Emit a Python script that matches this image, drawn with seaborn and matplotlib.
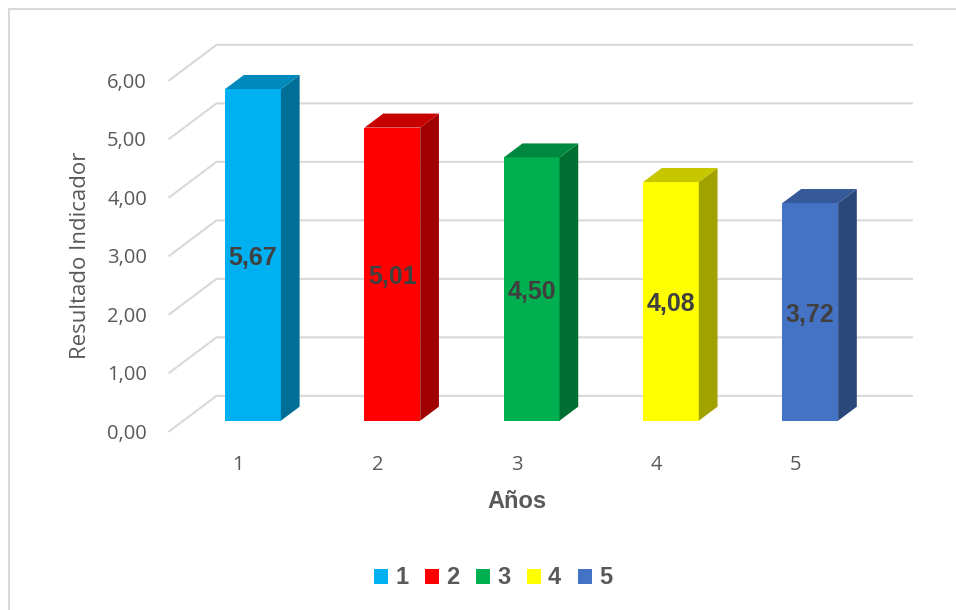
import matplotlib
matplotlib.use("Agg")
import matplotlib.pyplot as plt
import matplotlib.transforms as mtransforms
from matplotlib.patches import Polygon, Patch
from matplotlib.lines import Line2D
from matplotlib.colors import to_rgb
import numpy as np
import pandas as pd
import seaborn as sns

# Data
years = ["1", "2", "3", "4", "5"]
values = [5.67, 5.01, 4.50, 4.08, 3.72]
value_labels = ["5,67", "5,01", "4,50", "4,08", "3,72"]
bar_colors = ["#00B0F0", "#FF0000", "#00B050", "#FFFF00", "#4472C4"]
y_ticks = [0, 1, 2, 3, 4, 5, 6]
y_tick_labels = ["0,00", "1,00", "2,00", "3,00", "4,00", "5,00", "6,00"]

sns.set_style("white")
plt.rcParams["font.family"] = ["Open Sans", "DejaVu Sans"]

W, H = 956, 610
fig = plt.figure(figsize=(W / 100, H / 100), dpi=100)
ax = fig.add_axes([183.4 / W, (H - 420.7) / H, 696.5 / W, 351 / H])

df = pd.DataFrame({"Año": years, "Resultado": values})
sns.barplot(data=df, x="Año", y="Resultado", hue="Año", palette=bar_colors,
            width=0.4, saturation=1, legend=False, ax=ax, zorder=3,
            linewidth=0)
ax.set_xlim(-0.5, 4.5)
ax.set_ylim(0, 6)
ax.set_axis_off()

# 3D depth: full floor depth vector (in screen dots) and plane positions
DEPTH = np.array([48.0, 36.0])
FRONT = -0.31   # front wall relative to bar front plane
BAR_BACK = 0.39  # back face of the bars
BACK = 0.69     # back wall


def dots_to_data(d):
    p0 = ax.transData.transform((0, 0))
    q = ax.transData.inverted().transform(p0 + np.asarray(d))
    return q[0], q[1]


fdx, fdy = dots_to_data(DEPTH * FRONT)
bdx, bdy = dots_to_data(DEPTH * BACK)
x0, x1 = ax.get_xlim()

# Gridlines: diagonal on the side wall and horizontal on the back wall
for v in y_ticks:
    ax.plot([x0 + fdx, x0 + bdx, x1 + bdx], [v + fdy, v + bdy, v + bdy],
            color="#d9d9d9", lw=1.5, zorder=1, clip_on=False,
            solid_capstyle="butt", solid_joinstyle="miter")

# Side and top faces of the bars
ddx, ddy = dots_to_data(DEPTH * BAR_BACK)
for p, c in zip(ax.patches, bar_colors):
    bx0 = p.get_x()
    bx1 = bx0 + p.get_width()
    h = p.get_height()
    rgb = np.array(to_rgb(c))
    side = Polygon([(bx1, 0), (bx1 + ddx, ddy), (bx1 + ddx, h + ddy), (bx1, h)],
                   closed=True, facecolor=rgb * 0.63, edgecolor="none",
                   zorder=3, clip_on=False)
    top = Polygon([(bx0, h), (bx1, h), (bx1 + ddx, h + ddy), (bx0 + ddx, h + ddy)],
                  closed=True, facecolor=rgb * 0.78, edgecolor="none",
                  zorder=3, clip_on=False)
    ax.add_patch(side)
    ax.add_patch(top)

# Value labels in the middle of each bar
lab_trans = mtransforms.offset_copy(ax.transData, fig=fig, x=0, y=-3, units="dots")
for i, (v, s) in enumerate(zip(values, value_labels)):
    ax.text(i, v / 2, s, transform=lab_trans, ha="center", va="center",
            fontsize=18, fontweight="bold", color="#404040",
            family=["Liberation Sans", "DejaVu Sans"], zorder=5)

# Value axis labels on the front wall
ytrans = mtransforms.offset_copy(ax.transData, fig=fig, x=-36.5, y=-13, units="dots")
for v, s in zip(y_ticks, y_tick_labels):
    ax.text(x0, v, s, transform=ytrans, ha="right", va="center",
            fontsize=14.5, color="#595959", clip_on=False)

# Category labels below the floor
xtrans = mtransforms.offset_copy(ax.transData, fig=fig, x=-15, y=-44, units="dots")
for i, s in enumerate(years):
    ax.text(i, 0, s, transform=xtrans, ha="center", va="center",
            fontsize=14.5, color="#595959", clip_on=False)

# Axis titles
fig.text(81 / W, 1 - 255 / H, "Resultado Indicador", rotation=90,
         ha="center", va="center", fontsize=16, color="#595959")
fig.text(517 / W, 1 - 508 / H, "Años", ha="center", va="baseline",
         fontsize=17, fontweight="bold", color="#595959",
         family=["Liberation Sans", "DejaVu Sans"])

# Legend
handles = [Patch(facecolor=c, edgecolor="none") for c in bar_colors]
fig.legend(handles, years, loc="center", bbox_to_anchor=(493 / W, 1 - 578 / H),
           ncol=5, frameon=False,
           prop={"family": "Liberation Sans", "weight": "bold", "size": 17},
           handlelength=0.6, handleheight=0.6, handletextpad=0.3,
           columnspacing=0.7, labelcolor="#595959")

# Chart frame
fig.add_artist(Line2D([8.5 / W, 1], [1 - 8.5 / H, 1 - 8.5 / H],
                      transform=fig.transFigure, color="#d9d9d9", lw=1.5))
fig.add_artist(Line2D([8.5 / W, 8.5 / W], [0, 1 - 8.5 / H],
                      transform=fig.transFigure, color="#d9d9d9", lw=1.5))

fig.savefig("out.png", dpi=100)
